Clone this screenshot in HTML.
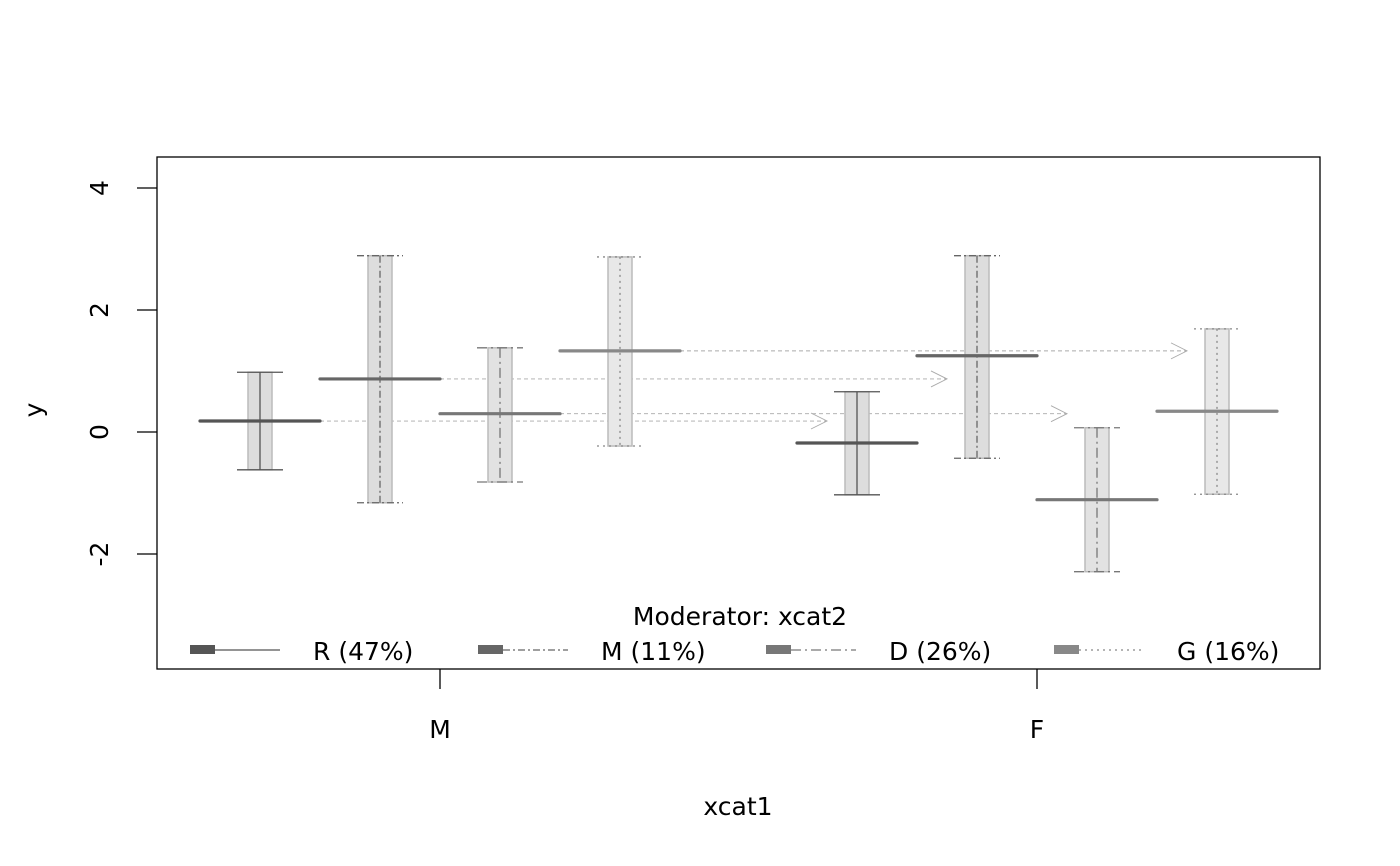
<!DOCTYPE html>
<html><head><meta charset="utf-8"><style>
body{margin:0;background:#fff}
svg{display:block;font-family:"DejaVu Sans","Liberation Sans",sans-serif}
</style></head><body>
<svg id="c" width="1400" height="866">
<rect x="157" y="157" width="1163" height="512" fill="#fff" stroke="#000" stroke-width="1.3"/>
<g id="marks"></g>
<g id="axes"></g>
</svg>
<script>
const groups=["M","F"];
const series=["R","M","D","G"];
const seriesPct=["R (47%)","M (11%)","D (26%)","G (16%)"];
const meanM=[0.18,0.87,0.30,1.33];
const lowM=[-0.62,-1.16,-0.82,-0.23];
const highM=[0.98,2.89,1.38,2.87];
const meanF=[-0.18,1.25,-1.11,0.34];
const lowF=[-1.03,-0.43,-2.29,-1.02];
const highF=[0.66,2.89,0.07,1.69];
const yTicks=[-2,0,2,4];

const NS="http://www.w3.org/2000/svg";
const colors=["#555","#666","#777","#888"];
const dashes=["","7,3,2,3","10,4,2,4","2,4"];
const fills=["#ddd","#ddd","#e2e2e2","#e8e8e8"];
const ys=v=>432-v*61;
const gx=[440,1037];
const xs=(g,s)=>gx[g]-180+s*120;
const FS=25;
const marks=document.getElementById('marks'),axes=document.getElementById('axes');
function el(t,a,p){const e=document.createElementNS(NS,t);for(const k in a)e.setAttribute(k,a[k]);(p||marks).appendChild(e);return e;}
const means=[meanM,meanF],lows=[lowM,lowF],highs=[highM,highF];
// arrows (horizontal at the M-group mean)
series.forEach((s,i)=>{
  const y=ys(meanM[i]);
  const x1=xs(0,i)+60,x2=xs(1,i)-30;
  const l=el('line',{x1,y1:y,x2,y2:y,stroke:'#aaa','stroke-width':0.9,'stroke-dasharray':'4,3'});
  
  
  const h=el('polyline',{points:`${x2-16},${y-8} ${x2},${y} ${x2-16},${y+8}`,fill:'none',stroke:'#aaa','stroke-width':0.9});
  
  
});
groups.forEach((g,gi)=>{
  series.forEach((s,i)=>{
    const cx=xs(gi,i),m=means[gi][i],lo=lows[gi][i],hi=highs[gi][i];
    const r=el('rect',{x:cx-12,y:ys(hi),width:24,height:ys(lo)-ys(hi),fill:fills[i],stroke:'#bbb','stroke-width':1.5});
    
    
    const v=el('line',{x1:cx,x2:cx,y1:ys(hi),y2:ys(lo),stroke:colors[i],'stroke-width':1.3,'stroke-dasharray':dashes[i]});
    
    
    [hi,lo].forEach(val=>{
      const w=el('line',{x1:cx-23,x2:cx+23,y1:ys(val),y2:ys(val),stroke:colors[i],'stroke-width':1.3,'stroke-dasharray':dashes[i]});
      
      
    });
    const ml=el('line',{x1:cx-60,x2:cx+60,y1:ys(m),y2:ys(m),stroke:colors[i],'stroke-width':3.2,'stroke-linecap':'round'});
    
    
  });
});
// y axis
yTicks.forEach(t=>{
  el('line',{x1:137,x2:157,y1:ys(t),y2:ys(t),stroke:'#000','stroke-width':1.3},axes);
  const tx=el('text',{x:0,y:0,'font-size':FS,'text-anchor':'middle',transform:`translate(108,${ys(t)}) rotate(-90)`},axes);
  tx.textContent=t<0?'-'+Math.abs(t):String(t);
  
  
});
const yt=el('text',{x:0,y:0,'font-size':FS,'text-anchor':'middle',transform:'translate(42,410) rotate(-90)'},axes);
yt.textContent='y';


// x axis
groups.forEach((g,gi)=>{
  el('line',{x1:gx[gi],x2:gx[gi],y1:669,y2:689,stroke:'#000','stroke-width':1.3},axes);
  const t=el('text',{x:gx[gi],y:738,'font-size':FS,'text-anchor':'middle'},axes);
  t.textContent=g;
  
  
});
const xt=el('text',{x:738,y:815,'font-size':FS,'text-anchor':'middle'},axes);
xt.textContent='xcat1';


// legend
const lt=el('text',{x:740,y:625,'font-size':FS,'text-anchor':'middle'},axes);
lt.textContent='Moderator: xcat2';


series.forEach((s,i)=>{
  const x0=190+i*288;
  el('rect',{x:x0,y:645,width:25,height:9,fill:colors[i]},axes);
  el('line',{x1:x0+25,x2:x0+90,y1:650,y2:650,stroke:colors[i],'stroke-width':1.3,'stroke-dasharray':dashes[i]},axes);
  const t=el('text',{x:x0+123,y:660,'font-size':FS},axes);
  t.textContent=seriesPct[i];
  
  
});
</script>
</body></html>
